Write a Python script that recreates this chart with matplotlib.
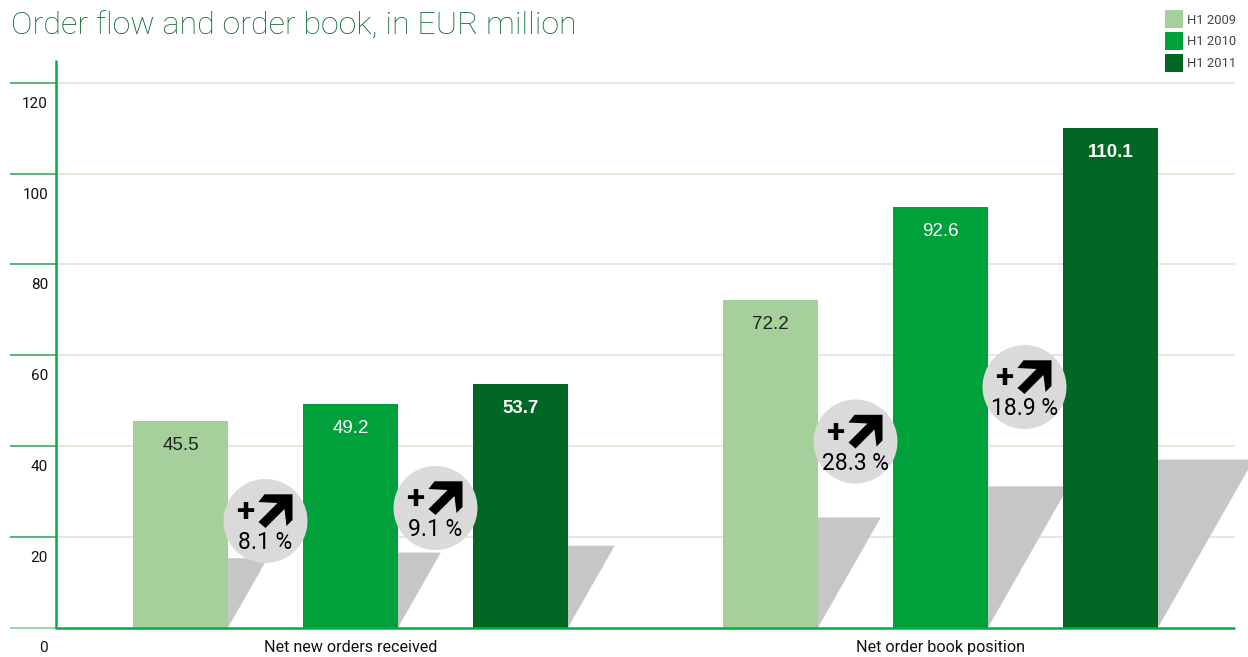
# -*- coding: utf-8 -*-
"""
Order flow and order book bars for three half years
"""
import matplotlib
matplotlib.use("Agg")
import matplotlib.pyplot as plt
from matplotlib.patches import Ellipse, Polygon

# values
groups = ["Net new orders received", "Net order book position"]
years = ["H1 2009", "H1 2010", "H1 2011"]
orders = [45.5, 49.2, 53.7]
book = [72.2, 92.6, 110.1]
growth_orders = ["8.1 %", "9.1 %"]
growth_book = ["28.3 %", "18.9 %"]
yticks = [0, 20, 40, 60, 80, 100, 120]

colors = ["#a5d09b", "#00a13a", "#006724"]
label_colors = ["#222222", "#ffffff", "#ffffff"]
axis_green = "#08aa45"
grid_green = "#d8ead0"
shadow_gray = "#c6c6c6"
bubble_gray = "#dadada"

W, H = 1248, 657
PX_PER_UNIT = 4.54
ZERO_PX = 627.6

plt.rcParams["font.family"] = ["Roboto", "DejaVu Sans"]

fig = plt.figure(figsize=(W / 100, H / 100), dpi=100, facecolor="white")
ax = fig.add_axes([0, 0, 1, 1])
ax.set_xlim(0, W)
ax.set_ylim(-(H - ZERO_PX) / PX_PER_UNIT, ZERO_PX / PX_PER_UNIT)
ax.axis("off")

# 1 data unit on y is PX_PER_UNIT pixels, x is already in pixels
def up(px):
    return px / PX_PER_UNIT

def row(px):
    return (ZERO_PX - px) / PX_PER_UNIT

# grid and left stubs
for v in yticks[1:]:
    ax.plot([56, 1235], [v, v], color=grid_green, lw=1.2, zorder=1, solid_capstyle="butt")
    ax.plot([10, 56], [v, v], color="#2f9e5c", lw=1.1, zorder=1, solid_capstyle="butt")
    ax.text(48, v - up(21), str(v), ha="right", va="center", fontsize=11, color="#111111")
ax.plot([10, 56], [0, 0], color="#7ccb96", lw=1.1, zorder=1, solid_capstyle="butt")
ax.text(48, -up(20.5), "0", ha="right", va="center", fontsize=11, color="#111111")

# axes lines
ax.plot([56, 56], [0, row(60)], color=axis_green, lw=1.8, zorder=5, solid_capstyle="butt")
ax.plot([55, 1235], [0, 0], color=axis_green, lw=1.8, zorder=5, solid_capstyle="butt")

# bars with their slanted shadows
BAR_W = 95
positions = [[180.5, 350.5, 520.5], [770.5, 940.5, 1110.5]]
for xs, vals in zip(positions, [orders, book]):
    for i, (x, v) in enumerate(zip(xs, vals)):
        right = x + BAR_W / 2
        sh = v * 0.336
        ax.add_patch(Polygon([(right, sh), (right + sh * PX_PER_UNIT * 0.57, sh), (right, 0)],
                             closed=True, fc=shadow_gray, ec="none", zorder=2))
        ax.bar(x, v, width=BAR_W, color=colors[i], zorder=3)
        bold = i == 2
        ax.text(x, v - up(24.5), f"{v:.1f}", ha="center", va="center", color=label_colors[i],
                fontsize=13.5, family=["Liberation Sans", "DejaVu Sans"],
                fontweight="bold" if bold else "normal", zorder=4)

# arrow outline around the bubble centre, in pixels (x right, y up)
arrow_px = [(0, 26.7), (28, 26.7), (28, 1), (22, -5), (20, 12), (1, -7), (-6, -1),
            (13, 18), (-6, 19)]

def bubble(cx, cy, txt):
    y0 = row(cy)
    ax.add_patch(Ellipse((cx, y0), 84, up(84), fc=bubble_gray, ec="none", zorder=6))
    pts = [(cx - 1 + a, y0 + up(b)) for a, b in arrow_px]
    ax.add_patch(Polygon(pts, closed=True, fc="black", ec="none", zorder=7))
    ax.text(cx - 20.5, y0 + up(9), "+", ha="center", va="center", fontsize=24, fontweight="bold",
            color="black", zorder=7)
    ax.text(cx, y0 - up(21.5), txt, ha="center", va="center", fontsize=16.5, color="black", zorder=7)

bubble(265.5, 521, growth_orders[0])
bubble(435.5, 508, growth_orders[1])
bubble(855.5, 441.5, growth_book[0])
bubble(1024.5, 387, growth_book[1])

# group labels
ax.text(350.5, -up(20), groups[0], ha="center", va="center", fontsize=11.6, color="#111111")
ax.text(940.5, -up(20), groups[1], ha="center", va="center", fontsize=11.6, color="#111111")

# title
fig.text(11 / W, 1 - 26 / H, "Order flow and order book, in EUR million", ha="left", va="center",
         fontsize=23.2, color="#086a2e", family=["Roboto", "DejaVu Sans"], fontweight="light")

# legend
for i, (name, yy) in enumerate(zip(years, [19, 40.5, 62.5])):
    ax.add_patch(Polygon([(1165, row(yy - 9)), (1183, row(yy - 9)),
                          (1183, row(yy + 9)), (1165, row(yy + 9))],
                         closed=True, fc=colors[i], ec="none", zorder=3))
    ax.text(1187, row(yy + 1), name, ha="left", va="center", fontsize=9.4, color="#444444")

fig.savefig("out.png", dpi=100)
